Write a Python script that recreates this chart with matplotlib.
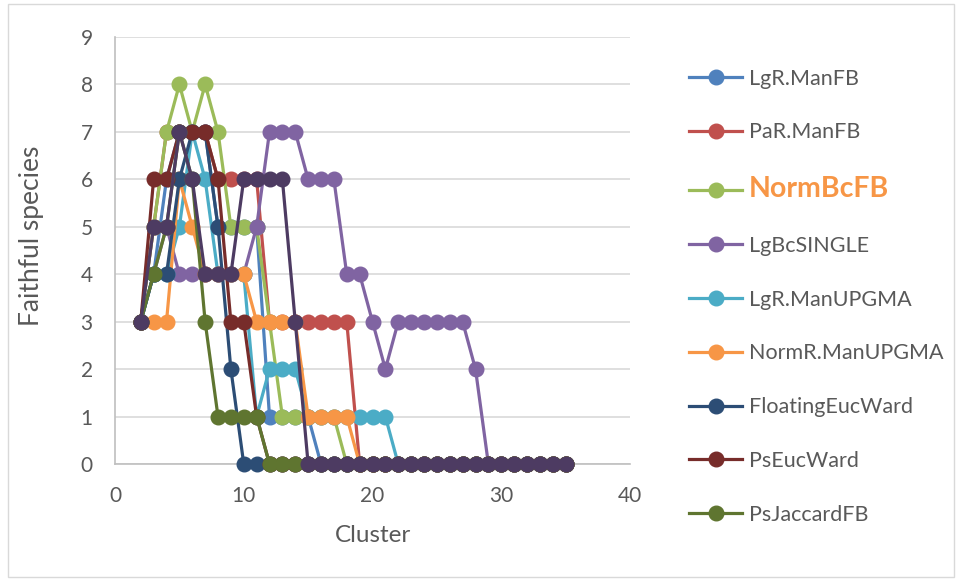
import matplotlib.pyplot as plt
from matplotlib.patches import Rectangle

plt.rcParams["font.family"] = ["Lato", "DejaVu Sans"]

clusters = list(range(2, 36))

labels = [
    "LgR.ManFB", "PaR.ManFB", "NormBcFB", "LgBcSINGLE", "LgR.ManUPGMA",
    "NormR.ManUPGMA", "FloatingEucWard", "PsEucWard", "PsJaccardFB",
]

# faithful species per number of clusters (starting at 2, zeros afterwards)
lgr_manfb = [3, 4, 6, 7, 7, 7, 5, 5, 5, 5, 1, 1, 1, 1, 0]
par_manfb = [3, 5, 7, 7, 7, 7, 6, 6, 6, 6, 3, 3, 3, 3, 3, 3, 3, 0]
normbcfb = [3, 5, 7, 8, 7, 8, 7, 5, 5, 5, 3, 1, 1, 1, 1, 1, 0]
lgbcsingle = [3, 4, 5, 4, 4, 4, 4, 4, 4, 5, 7, 7, 7, 6, 6, 6, 4, 4, 3, 2,
              3, 3, 3, 3, 3, 3, 2, 0]
lgr_manupgma = [3, 4, 4, 5, 7, 6, 4, 4, 4, 1, 2, 2, 2, 1, 1, 1, 1, 1, 1, 1, 0]
normr_manupgma = [3, 3, 3, 6, 5, 4, 4, 4, 4, 3, 3, 3, 3, 1, 1, 1, 1, 0]
floating_eucward = [3, 4, 4, 6, 7, 7, 5, 2, 0]
ps_eucward = [3, 6, 6, 7, 7, 7, 6, 3, 3, 1, 0]
ps_jaccardfb = [3, 4, 5, 7, 6, 3, 1, 1, 1, 1, 0]
unlabeled = [3, 5, 5, 7, 6, 4, 4, 4, 6, 6, 6, 6, 3, 0]

colors = ["#4F81BD", "#C0504D", "#9BBB59", "#8064A2", "#4BACC6",
          "#F79646", "#2C4D75", "#772C2A", "#5F7530", "#4D3B62"]


def pad(values):
    return values + [0] * (len(clusters) - len(values))


series = [lgr_manfb, par_manfb, normbcfb, lgbcsingle, lgr_manupgma,
          normr_manupgma, floating_eucward, ps_eucward, ps_jaccardfb, unlabeled]

fig = plt.figure(figsize=(9.56, 5.81), dpi=100)
ax = fig.add_axes([115 / 956, 1 - 464 / 581, 515 / 956, 427 / 581])

for i, vals in enumerate(series):
    name = labels[i] if i < len(labels) else "_nolegend_"
    ax.plot(clusters, pad(vals), color=colors[i], lw=2.3, marker="o",
            markersize=10.5, label=name, clip_on=False, zorder=3 + i * 0.01)

ax.set_xlim(0, 40)
ax.set_ylim(0, 9)
ax.set_xticks(range(0, 41, 10))
ax.set_yticks(range(0, 10))
ax.grid(axis="y", color="#D9D9D9", lw=1.2)
ax.set_axisbelow(True)
for s in ["top", "right"]:
    ax.spines[s].set_visible(False)
for s in ["left", "bottom"]:
    ax.spines[s].set_color("#BFBFBF")
    ax.spines[s].set_linewidth(1.2)
ax.tick_params(length=0, labelsize=15, colors="#595959")
ax.tick_params(axis="x", pad=16)
ax.tick_params(axis="y", pad=16)
ax.set_xlabel("Cluster", fontsize=17.5, color="#595959")
ax.set_ylabel("Faithful species", fontsize=19, color="#595959")
ax.xaxis.set_label_coords(0.5, -(535 - 464) / 427, transform=ax.transAxes)
ax.xaxis.label.set_va("center")
ax.yaxis.set_label_coords(-(115 - 32) / 515, (464 - 236) / 427)
ax.yaxis.label.set_va("center")

leg = fig.legend(loc="upper left", bbox_to_anchor=(680 / 956, 1 - 60 / 581),
                 frameon=False, fontsize=15.5, handlelength=2.5,
                 labelspacing=1.568, handletextpad=0.3, borderaxespad=0)
for txt in leg.get_texts():
    txt.set_color("#595959")
    if txt.get_text() == "NormBcFB":
        txt.set_color("#F79646")
        txt.set_fontweight("bold")
        txt.set_fontsize(20.5)

fig.patches.append(Rectangle((8 / 956, 4 / 581), 946 / 956, 573 / 581,
                             transform=fig.transFigure, fill=False,
                             edgecolor="#D9D9D9", lw=1))

fig.savefig("out.png", dpi=100)
